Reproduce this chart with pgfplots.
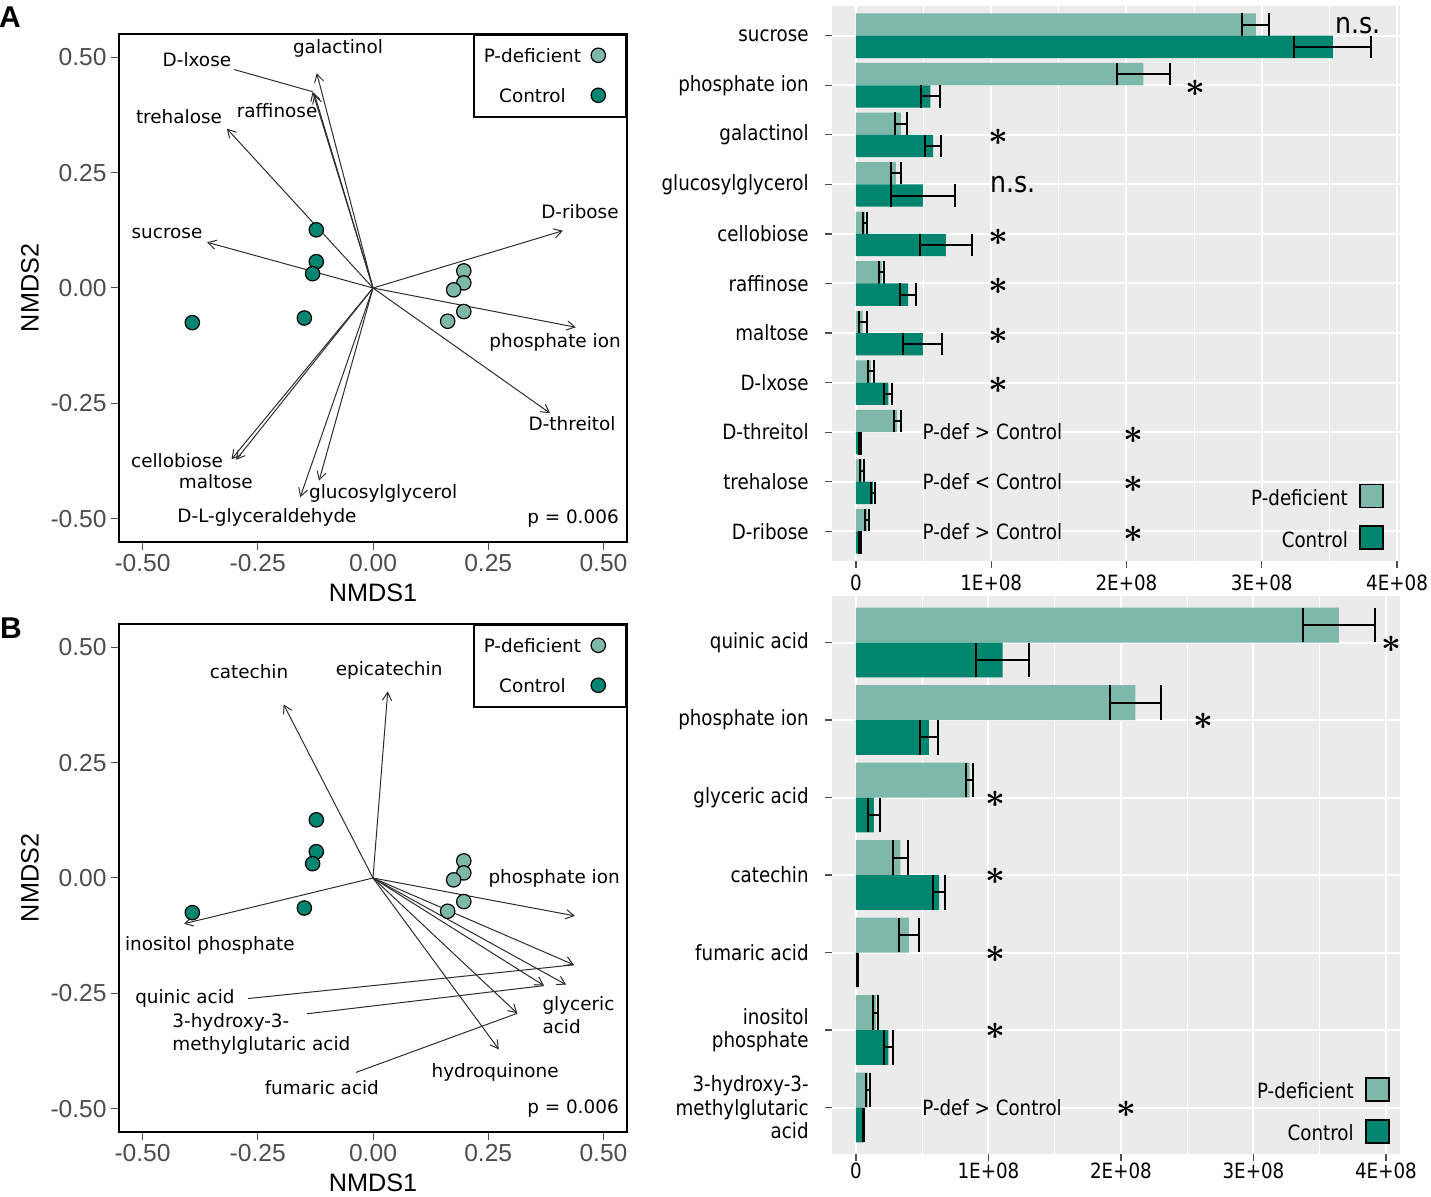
\documentclass[border=0pt]{standalone}
\usepackage{bm}
\usepackage{fontspec}
\setmainfont{DejaVu Sans}
\newfontfamily\arial{Liberation Sans}
\newfontfamily\barfont[FakeStretch=0.87]{DejaVu Sans}
\usepackage{pgfplots}
\pgfplotsset{compat=1.18}
\usetikzlibrary{arrows.meta}

\definecolor{pdef}{RGB}{125,184,170}
\definecolor{ctrl}{RGB}{0,133,112}
\definecolor{ggbg}{RGB}{235,235,235}
\definecolor{tickgray}{RGB}{77,77,77}
\definecolor{arrowgray}{RGB}{45,45,45}

\newcommand\lab{\fontsize{9.2}{11.5}\selectfont}
\newcommand\blab{\barfont\fontsize{10.5}{11.7}\selectfont}
\newcommand\sig{\fontsize{19}{19}\selectfont$\bm{\ast}$}

\pgfplotsset{
  nmds/.style={
    scale only axis, width=253.5pt, height=254pt,
    xmin=-0.55, xmax=0.55, ymin=-0.55, ymax=0.55,
    xtick={-0.5,-0.25,0,0.25,0.5}, ytick={-0.5,-0.25,0,0.25,0.5},
    xticklabels={-0.50,-0.25,0.00,0.25,0.50},
    yticklabels={-0.50,-0.25,0.00,0.25,0.50},
    axis line style={line width=1pt},
    tick align=outside, tick pos=left,
    major tick length=4pt, tick style={tickgray, line width=0.5pt},
    ticklabel style={font=\arial\fontsize{12.3}{14}\selectfont, text=tickgray, inner sep=0pt},
    xticklabel style={anchor=center, yshift=-6.5pt},
    yticklabel style={anchor=east, xshift=-2.25pt},
    xlabel={NMDS1}, ylabel={NMDS2},
    every axis x label/.style={at={(axis description cs:0.5,0)}, anchor=center, yshift=-25.5pt, font=\arial\fontsize{12.6}{14}\selectfont},
    every axis y label/.style={at={(axis description cs:0,0.5)}, anchor=center, xshift=-44.75pt, rotate=90, font=\arial\fontsize{12.6}{14}\selectfont},
    clip=false,
    legend plot pos=right, legend cell align=center,
    legend style={at={(axis cs:0.55,0.55)}, anchor=north east, draw=black, line width=1pt, fill=white,
      inner xsep=0pt, inner ysep=4.15pt, row sep=7.3pt, column sep=0pt, font=\lab,
      nodes={inner xsep=5pt, inner ysep=3pt, text height=6.7pt, text depth=0pt}},
    legend image code/.code={\path[draw=none, fill=none] (0pt,-3pt) rectangle (17.2pt,3pt);
      \draw[##1] plot coordinates {(3.6pt,0.35pt)};},
  },
  pts/.style={only marks, mark=*, mark size=3.6pt, mark options={fill=#1, draw=black, line width=0.6pt}},
  arr/.style={arrowgray, line width=0.5pt, no markers, forget plot,
    -{Straight Barb[length=4pt,width=4.6pt]}, quiver={u=\thisrow{u},v=\thisrow{v}}},
  seg/.style={arrowgray, line width=0.5pt, no markers, forget plot},
  bars/.style={
    scale only axis, width=284pt, xbar, bar width=0.45,
    axis background/.style={fill=ggbg},
    axis line style={draw=none},
    xtick={0,1,2,3,4}, xticklabels={0,1E+08,2E+08,3E+08,4E+08},
    minor xtick={0.5,1.5,2.5,3.5},
    xmajorgrids, xminorgrids, ymajorgrids,
    major grid style={white, line width=1pt},
    minor grid style={white, line width=0.5pt},
    tick align=outside, tick pos=left, major tick length=3.5pt, minor tick length=0pt,
    tick style={tickgray, line width=0.6pt},
    ticklabel style={font=\blab, text=black, inner sep=0pt},
    yticklabel style={anchor=east, xshift=-8pt, align=right},
    clip=false,
    legend plot pos=right, legend cell align=right,
    legend style={draw=none, fill=none, inner sep=0pt, row sep=8.5pt, column sep=5.5pt, font=\blab,
      nodes={inner sep=0pt, text height=7.6pt, text depth=0pt}},
    legend image code/.code={\draw[##1, draw=black, line width=0.9pt] (0pt,-4.95pt) rectangle (11.5pt,6.55pt);},
  },
  errs/.style={error bars/x dir=both, error bars/x explicit, error bars/error mark=|,
    error bars/error bar style={black, line width=1pt},
    error bars/error mark options={black, line width=1pt, mark size=#1}},
  lightbar/.style={fill=pdef, draw=none, bar shift=0.225, errs=#1},
  darkbar/.style={fill=ctrl, draw=none, bar shift=-0.225, errs=#1},
}

\begin{document}
\begin{tikzpicture}

% ---------- A, NMDS ----------
\begin{axis}[nmds, at={(59.75pt,327pt)}, anchor=south west]
\addplot[arr] table {
x y u v
0 0 -0.122 0.465
0 0 -0.131 0.425
0 0 -0.127 0.419
0 0 -0.317 0.345
0 0 -0.360 0.099
0 0 0.412 0.124
0 0 0.440 -0.085
0 0 0.384 -0.271
0 0 -0.307 -0.371
0 0 -0.297 -0.372
0 0 -0.117 -0.417
0 0 -0.158 -0.453
};
\addplot[seg] coordinates {(-0.301,0.473) (-0.131,0.425)};
\addplot[pts=pdef] table {
0.197 0.037
0.197 0.011
0.175 -0.004
0.197 -0.051
0.162 -0.072
};
\addlegendentry{P-deficient}
\addplot[pts=ctrl] table {
-0.123 0.126
-0.123 0.057
-0.131 0.031
-0.149 -0.065
-0.392 -0.075
};
\addlegendentry{Control}
\node[font=\lab] at (axis cs:-0.076,0.519) {galactinol};
\node[font=\lab] at (axis cs:-0.382,0.494) {D-lxose};
\node[font=\lab] at (axis cs:-0.421,0.372) {trehalose};
\node[font=\lab] at (axis cs:-0.208,0.385) {raffinose};
\node[font=\lab] at (axis cs:-0.447,0.119) {sucrose};
\node[font=\lab] at (axis cs:0.449,0.165) {D-ribose};
\node[font=\lab] at (axis cs:0.395,-0.117) {phosphate ion};
\node[font=\lab] at (axis cs:0.432,-0.294) {D-threitol};
\node[font=\lab] at (axis cs:-0.425,-0.374) {cellobiose};
\node[font=\lab] at (axis cs:-0.341,-0.420) {maltose};
\node[font=\lab] at (axis cs:0.022,-0.444) {glucosylglycerol};
\node[font=\lab] at (axis cs:-0.230,-0.496) {D-L-glyceraldehyde};
\node[font=\lab, anchor=east, inner sep=0pt] at (axis cs:0.534,-0.5) {p = 0.006};
\end{axis}

% ---------- B, NMDS ----------
\begin{axis}[nmds, at={(59.75pt,32pt)}, anchor=south west]
\addplot[arr] table {
x y u v
0 0 -0.194 0.376
0 0 0.032 0.404
0 0 -0.410 -0.099
0 0 0.438 -0.082
0 0 0.436 -0.188
0 0 0.419 -0.231
0 0 0.371 -0.233
0 0 0.313 -0.293
0 0 0.273 -0.371
};
\addplot[seg] coordinates {(-0.271,-0.261) (0.436,-0.188)};
\addplot[seg] coordinates {(-0.143,-0.294) (0.371,-0.233)};
\addplot[seg] coordinates {(-0.037,-0.421) (0.313,-0.293)};
\addplot[pts=pdef] table {
0.197 0.037
0.197 0.011
0.175 -0.004
0.197 -0.051
0.162 -0.072
};
\addlegendentry{P-deficient}
\addplot[pts=ctrl] table {
-0.123 0.126
-0.123 0.057
-0.131 0.031
-0.149 -0.065
-0.392 -0.075
};
\addlegendentry{Control}
\node[font=\lab] at (axis cs:-0.269,0.446) {catechin};
\node[font=\lab] at (axis cs:0.035,0.450) {epicatechin};
\node[font=\lab] at (axis cs:0.393,0.0) {phosphate ion};
\node[font=\lab] at (axis cs:-0.354,-0.147) {inositol phosphate};
\node[font=\lab] at (axis cs:-0.408,-0.260) {quinic acid};
\node[font=\lab, anchor=west, align=left, inner sep=0pt] at (axis cs:-0.436,-0.337) {3-hydroxy-3-\\methylglutaric acid};
\node[font=\lab, anchor=west, align=left, inner sep=0pt] at (axis cs:0.367,-0.298) {glyceric\\acid};
\node[font=\lab] at (axis cs:0.265,-0.420) {hydroquinone};
\node[font=\lab] at (axis cs:-0.111,-0.455) {fumaric acid};
\node[font=\lab, anchor=east, inner sep=0pt] at (axis cs:0.534,-0.5) {p = 0.006};
\end{axis}

% ---------- A, bars ----------
\begin{axis}[bars, at={(416pt,317.5pt)}, anchor=south west, height=277.5pt,
  xmin=-0.177, xmax=4.022, ymin=0.4, ymax=11.6,
  ytick={1,...,11},
  yticklabels={D-ribose,trehalose,D-threitol,D-lxose,maltose,raffinose,cellobiose,glucosylglycerol,galactinol,phosphate ion,sucrose},
  xticklabel style={anchor=center, yshift=-7.5pt},
  legend style={at={(axis cs:3.904,0.608)}, anchor=south east}]
\addplot[lightbar=5.6pt] table[x=v, y=y, x error=e] {
y v e
11 2.956 0.100
10 2.125 0.195
9 0.333 0.045
8 0.295 0.035
7 0.067 0.018
6 0.190 0.020
5 0.050 0.030
4 0.110 0.020
3 0.305 0.027
2 0.045 0.013
1 0.085 0.015
};
\addlegendentry{P-deficient}
\addplot[darkbar=5.6pt] table[x=v, y=y, x error=e] {
y v e
11 3.525 0.285
10 0.550 0.070
9 0.570 0.060
8 0.495 0.235
7 0.665 0.195
6 0.385 0.060
5 0.494 0.145
4 0.240 0.030
3 0.030 0.005
2 0.125 0.015
1 0.030 0.005
};
\addlegendentry{Control}
\node[font=\barfont\fontsize{14.5}{14.5}\selectfont] at (axis cs:3.71,11.2) {n.s.};
\node at (axis cs:2.51,9.94) {\sig};
\node at (axis cs:1.05,8.94) {\sig};
\node[font=\barfont\fontsize{14.5}{14.5}\selectfont, anchor=west, inner sep=0pt] at (axis cs:0.99,8.0) {n.s.};
\node at (axis cs:1.05,6.94) {\sig};
\node at (axis cs:1.05,5.94) {\sig};
\node at (axis cs:1.05,4.94) {\sig};
\node at (axis cs:1.05,3.94) {\sig};
\node[font=\blab, anchor=west, inner sep=0pt] at (axis cs:0.49,3) {P-def > Control};
\node at (axis cs:2.055,2.94) {\sig};
\node[font=\blab, anchor=west, inner sep=0pt] at (axis cs:0.49,2) {P-def < Control};
\node at (axis cs:2.055,1.94) {\sig};
\node[font=\blab, anchor=west, inner sep=0pt] at (axis cs:0.49,1) {P-def > Control};
\node at (axis cs:2.055,0.94) {\sig};
\end{axis}

% ---------- B, bars ----------
\begin{axis}[bars, at={(416pt,21pt)}, anchor=south west, height=279pt,
  xmin=-0.181, xmax=4.106, ymin=0.4, ymax=7.6,
  ytick={1,...,7},
  yticklabels={{3-hydroxy-3-\\methylglutaric\\acid},{inositol\\phosphate},fumaric acid,catechin,glyceric acid,phosphate ion,quinic acid},
  xticklabel style={anchor=center, yshift=-5pt},
  legend style={at={(axis cs:4.03,0.524)}, anchor=south east}]
\addplot[lightbar=8.7pt] table[x=v, y=y, x error=e] {
y v e
7 3.645 0.270
6 2.109 0.190
5 0.857 0.027
4 0.335 0.055
3 0.400 0.077
2 0.150 0.018
1 0.090 0.013
};
\addlegendentry{P-deficient}
\addplot[darkbar=8.7pt] table[x=v, y=y, x error=e] {
y v e
7 1.106 0.202
6 0.550 0.067
5 0.135 0.045
4 0.627 0.048
3 0.012 0.003
2 0.245 0.035
1 0.055 0.005
};
\addlegendentry{Control}
\node at (axis cs:4.045,6.98) {\sig};
\node at (axis cs:2.62,5.98) {\sig};
\node at (axis cs:1.05,4.98) {\sig};
\node at (axis cs:1.05,3.98) {\sig};
\node at (axis cs:1.05,2.98) {\sig};
\node at (axis cs:1.05,1.98) {\sig};
\node[font=\blab, anchor=west, inner sep=0pt] at (axis cs:0.498,1) {P-def > Control};
\node at (axis cs:2.045,0.98) {\sig};
\end{axis}

\node[font=\arial\bfseries\fontsize{15}{15}\selectfont] at (5pt,589.5pt) {A};
\node[font=\arial\bfseries\fontsize{15}{15}\selectfont] at (5.5pt,284pt) {B};

\pgfresetboundingbox
\path[use as bounding box] (0,0) rectangle (715.5pt,598pt);
\end{tikzpicture}
\end{document}
